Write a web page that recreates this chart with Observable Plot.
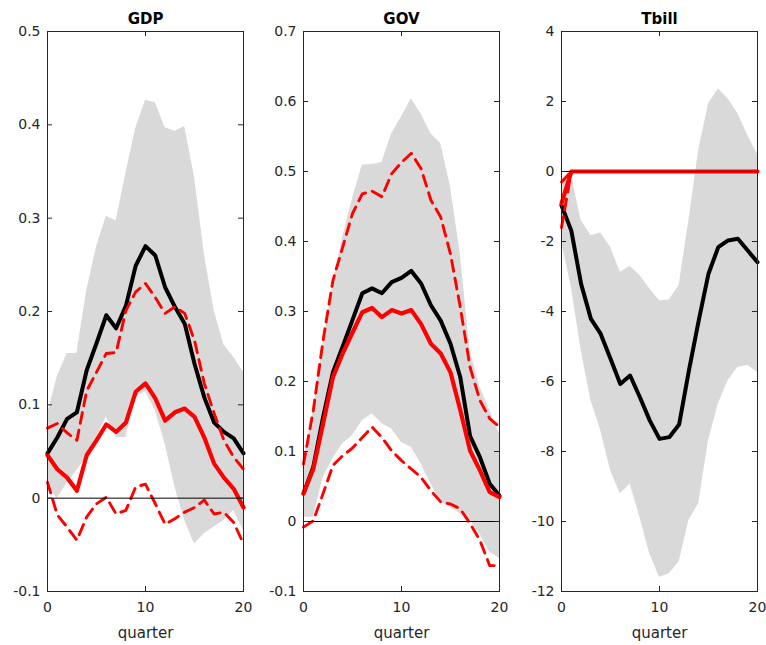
<!DOCTYPE html>
<html>
<head>
<meta charset="utf-8">
<script src="https://cdn.jsdelivr.net/npm/d3@7"></script>
<script src="https://cdn.jsdelivr.net/npm/@observablehq/plot@0.6"></script>
<style>
  html, body { margin: 0; padding: 0; background: #fff; }
  #fig { position: relative; width: 766px; height: 645px; background: #fff; }
  #fig > svg { position: absolute; top: 0; }
</style>
</head>
<body>
<div id="fig"></div>
<script>
// Horizon (quarters after the shock)
const quarter = [0, 1, 2, 3, 4, 5, 6, 7, 8, 9, 10, 11, 12, 13, 14, 15, 16, 17, 18, 19, 20];
const xTicks = [0, 10, 20];

// GDP responses
const gdpUpper  = [0.090, 0.130, 0.155, 0.155, 0.222, 0.269, 0.302, 0.297, 0.348, 0.396, 0.426, 0.424, 0.397, 0.393, 0.398, 0.344, 0.262, 0.201, 0.164, 0.151, 0.135];
const gdpLower  = [0.012, 0.000, 0.016, 0.030, 0.044, 0.065, 0.087, 0.065, 0.065, 0.108, 0.114, 0.094, 0.058, 0.012, -0.024, -0.049, -0.038, -0.031, -0.024, -0.013, -0.035];
const gdpMedian = [0.048, 0.065, 0.085, 0.092, 0.137, 0.166, 0.196, 0.182, 0.206, 0.249, 0.270, 0.260, 0.226, 0.205, 0.187, 0.144, 0.108, 0.081, 0.071, 0.064, 0.048];
const gdpAlt    = [0.046, 0.031, 0.022, 0.008, 0.046, 0.062, 0.079, 0.071, 0.081, 0.114, 0.123, 0.107, 0.083, 0.092, 0.096, 0.087, 0.065, 0.037, 0.022, 0.010, -0.010];
const gdpAltHi  = [0.075, 0.080, 0.070, 0.062, 0.115, 0.135, 0.155, 0.156, 0.201, 0.221, 0.230, 0.215, 0.198, 0.205, 0.198, 0.169, 0.123, 0.091, 0.062, 0.044, 0.031];
const gdpAltLo  = [0.017, -0.018, -0.031, -0.045, -0.020, -0.006, 0.001, -0.017, -0.013, 0.012, 0.015, -0.006, -0.028, -0.022, -0.015, -0.010, -0.002, -0.017, -0.015, -0.026, -0.049];
const gdpTicks  = [-0.1, 0, 0.1, 0.2, 0.3, 0.4, 0.5];

// Government spending responses
const govUpper  = [0.087, 0.159, 0.254, 0.340, 0.406, 0.461, 0.509, 0.510, 0.513, 0.554, 0.578, 0.604, 0.582, 0.554, 0.540, 0.478, 0.382, 0.244, 0.192, 0.159, 0.125];
const govLower  = [0.006, 0.006, 0.063, 0.090, 0.111, 0.123, 0.144, 0.154, 0.140, 0.132, 0.113, 0.106, 0.082, 0.054, 0.028, 0.020, 0.011, 0.001, -0.018, -0.044, -0.053];
const govMedian = [0.040, 0.078, 0.149, 0.213, 0.250, 0.288, 0.326, 0.333, 0.326, 0.342, 0.348, 0.358, 0.340, 0.309, 0.287, 0.254, 0.206, 0.122, 0.092, 0.054, 0.037];
const govAlt    = [0.040, 0.075, 0.140, 0.206, 0.240, 0.270, 0.299, 0.305, 0.292, 0.302, 0.297, 0.302, 0.282, 0.254, 0.240, 0.213, 0.159, 0.101, 0.073, 0.042, 0.035];
const govAltHi  = [0.082, 0.159, 0.259, 0.344, 0.392, 0.440, 0.468, 0.472, 0.464, 0.497, 0.513, 0.526, 0.504, 0.459, 0.435, 0.382, 0.306, 0.220, 0.173, 0.147, 0.135];
const govAltLo  = [-0.008, 0.001, 0.040, 0.080, 0.094, 0.105, 0.120, 0.135, 0.120, 0.101, 0.087, 0.075, 0.063, 0.044, 0.028, 0.025, 0.018, -0.003, -0.027, -0.063, -0.063];
const govTicks  = [-0.1, 0, 0.1, 0.2, 0.3, 0.4, 0.5, 0.6, 0.7];

// T-bill rate responses
const tbUpper  = [-0.30, -0.10, -1.40, -1.83, -1.76, -2.16, -2.88, -2.71, -2.97, -3.35, -3.69, -3.67, -3.26, -1.40, 0.60, 1.93, 2.36, 2.08, 1.65, 1.03, 0.50];
const tbLower  = [-2.00, -3.30, -5.10, -6.54, -7.40, -8.54, -9.21, -8.93, -9.88, -10.92, -11.59, -11.49, -11.16, -9.97, -9.49, -7.69, -6.64, -5.97, -5.59, -5.54, -5.73];
const tbMedian = [-0.97, -1.69, -3.21, -4.21, -4.64, -5.35, -6.07, -5.83, -6.45, -7.11, -7.64, -7.59, -7.23, -5.69, -4.26, -2.92, -2.16, -1.97, -1.92, -2.26, -2.59];
const tbAlt    = [-0.92, 0, 0, 0, 0, 0, 0, 0, 0, 0, 0, 0, 0, 0, 0, 0, 0, 0, 0, 0, 0];
const tbAltHi  = [-0.30, 0, 0, 0, 0, 0, 0, 0, 0, 0, 0, 0, 0, 0, 0, 0, 0, 0, 0, 0, 0];
const tbAltLo  = [-1.60, 0, 0, 0, 0, 0, 0, 0, 0, 0, 0, 0, 0, 0, 0, 0, 0, 0, 0, 0, 0];
const tbTicks  = [-12, -10, -8, -6, -4, -2, 0, 2, 4];

const panels = [
  {title: "GDP",   left: 0,   domain: [-0.1, 0.5], ticks: gdpTicks,
   upper: gdpUpper, lower: gdpLower, median: gdpMedian, alt: gdpAlt, altHi: gdpAltHi, altLo: gdpAltLo},
  {title: "GOV",   left: 256, domain: [-0.1, 0.7], ticks: govTicks,
   upper: govUpper, lower: govLower, median: govMedian, alt: govAlt, altHi: govAltHi, altLo: govAltLo},
  {title: "Tbill", left: 514, domain: [-12, 4],    ticks: tbTicks,
   upper: tbUpper, lower: tbLower, median: tbMedian, alt: tbAlt, altHi: tbAltHi, altLo: tbAltLo}
];

const W = 252, H = 645, ML = 47, MR = 9, MT = 31, MB = 54;
const innerW = W - ML - MR, innerH = H - MT - MB;
const TICK = 5, AXIS = "#262626", FONT = "DejaVu Sans, Arial, sans-serif";

const fig = document.getElementById("fig");

for (const p of panels) {
  const rows = quarter.map((q, i) => ({
    q, lo: p.lower[i], hi: p.upper[i], med: p.median[i],
    alt: p.alt[i], altHi: p.altHi[i], altLo: p.altLo[i]
  }));
  const dash = {stroke: "#ff0000", strokeWidth: 2.9, strokeDasharray: "11,7"};
  const chart = Plot.plot({
    width: W, height: H,
    marginLeft: ML, marginRight: MR, marginTop: MT, marginBottom: MB,
    style: {fontFamily: FONT, fontSize: "14px", color: AXIS, background: "transparent"},
    x: {domain: [0, 20]},
    y: {domain: p.domain},
    marks: [
      Plot.areaY(rows, {x: "q", y1: "lo", y2: "hi", fill: "#d9d9d9"}),
      Plot.lineY(rows, {x: "q", y: "med", stroke: "#000", strokeWidth: 4}),
      Plot.lineY(rows, {x: "q", y: "alt", stroke: "#ff0000", strokeWidth: 4.2}),
      Plot.lineY(rows, {x: "q", y: "altHi", ...dash}),
      Plot.lineY(rows, {x: "q", y: "altLo", ...dash}),
      Plot.ruleY([0], {stroke: "#000", strokeWidth: 1}),
      Plot.frame({stroke: AXIS, strokeWidth: 1}),
      // inward tick marks on all four sides
      Plot.ruleX(xTicks, {stroke: AXIS, insetTop: innerH - TICK}),
      Plot.ruleX(xTicks, {stroke: AXIS, insetBottom: innerH - TICK}),
      Plot.ruleY(p.ticks, {stroke: AXIS, insetRight: innerW - TICK}),
      Plot.ruleY(p.ticks, {stroke: AXIS, insetLeft: innerW - TICK}),
      Plot.axisX({ticks: xTicks, tickSize: 0, tickPadding: 11, tickFormat: d => String(d), label: null, fontSize: 14}),
      Plot.axisY({ticks: p.ticks, tickSize: 0, tickPadding: 7, tickFormat: d => String(d), label: null, fontSize: 14}),
      Plot.text([p.title], {frameAnchor: "top", lineAnchor: "bottom", dy: -8, fontSize: 15, fontWeight: "bold", fill: "#000"}),
      Plot.text(["quarter"], {frameAnchor: "bottom", lineAnchor: "middle", dy: 42, fontSize: 15, fill: AXIS})
    ]
  });
  chart.style.left = p.left + "px";
  fig.appendChild(chart);
}
</script>
</body>
</html>
